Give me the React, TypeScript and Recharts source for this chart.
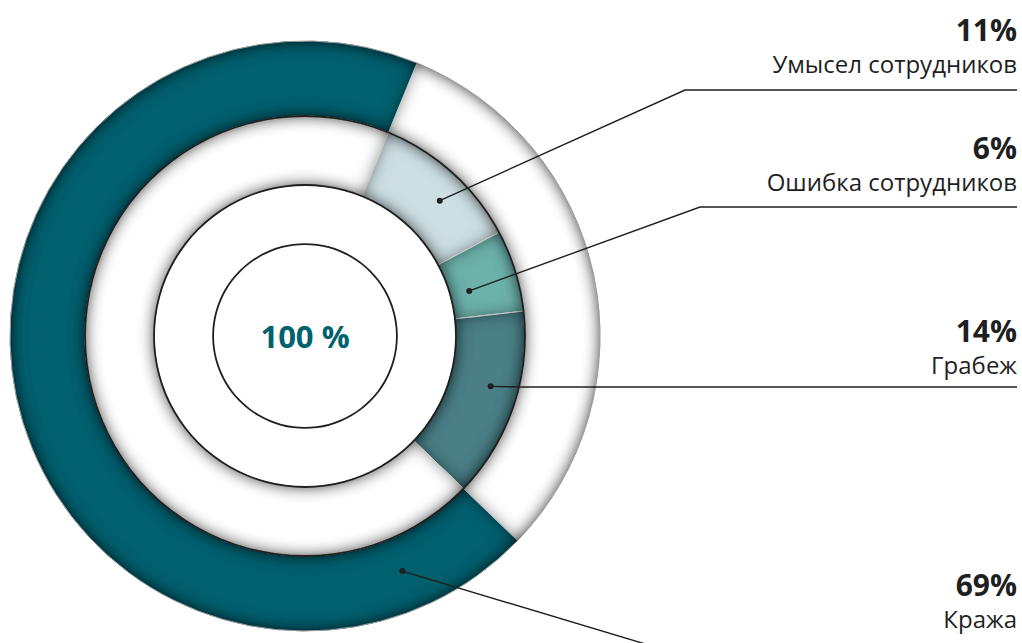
import React from "react";
import { PieChart, Pie, Cell } from "recharts";

// Доли видов потерь, %
const categories = ["Умысел сотрудников", "Ошибка сотрудников", "Грабеж", "Кража"];
const shares = [11, 6, 14, 69];
const percentLabels = ["11%", "6%", "14%", "69%"];
const sliceColors = ["#cddfe3", "#6db1ab", "#4b7f86", "#00616e"];
const totalLabel = "100 %";

// where each callout sits on the right side (layout only)
const calloutLayout = [
  { pctY: 41, nameY: 73, lineY: 90, lineX: 685, along: 0.57, depth: 0.58 },
  { pctY: 159, nameY: 191, lineY: 207, lineX: 700, along: 0.59, depth: 0.28 },
  { pctY: 342, nameY: 374, lineY: 387, lineX: 520, along: 0.43, depth: 0.6 },
  { pctY: 596, nameY: 628, lineY: 646, lineX: 652, along: 0.095, depth: 0.46 },
];

const W = 1022;
const H = 643;
const CX = 305;
const CY = 336;
const START = 67.7;
const END = START - 360;
const RAD = Math.PI / 180;
const FONT = "'Open Sans', 'Noto Sans', sans-serif";
const INK = "#1f1f1f";

// middle ring: the three small slices, the rest left blank
const middleData = [
  ...categories.slice(0, 3).map((name, i) => ({ name, value: shares[i], cat: i })),
  { name: "blank", value: shares[3], cat: -1 },
];
// outer ring: blank for the small slices, then "Кража"
const outerData = [
  { name: "blank", value: shares[0] + shares[1] + shares[2], cat: -1 },
  { name: categories[3], value: shares[3], cat: 3 },
];
const ringData = [{ name: "ring", value: 1 }];

const renderCallout = (props: any) => {
  const cat = props.cat ?? props.payload?.cat ?? -1;
  if (cat < 0) return null;
  const { cx, cy, startAngle, endAngle, innerRadius, outerRadius } = props;
  const c = calloutLayout[cat];
  const ang = startAngle + (endAngle - startAngle) * c.along;
  const r = innerRadius + (outerRadius - innerRadius) * c.depth;
  const dx = cx + Math.cos(-ang * RAD) * r;
  const dy = cy + Math.sin(-ang * RAD) * r;
  const right = W - 5;
  return (
    <g>
      <polyline
        points={`${dx},${dy} ${c.lineX},${c.lineY} ${right},${c.lineY}`}
        fill="none"
        stroke={INK}
        strokeWidth={1.4}
      />
      <circle cx={dx} cy={dy} r={3} fill={INK} />
      <text x={right} y={c.pctY} textAnchor="end" fontFamily={FONT} fontWeight={700} fontSize={30} fill={INK}>
        {percentLabels[cat]}
      </text>
      <text x={right} y={c.nameY} textAnchor="end" fontFamily={FONT} fontSize={24} fill={INK}>
        {categories[cat]}
      </text>
    </g>
  );
};

const renderTotal = (props: any) => (
  <text
    x={props.cx}
    y={props.cy}
    textAnchor="middle"
    dominantBaseline="central"
    fontFamily={FONT}
    fontWeight={700}
    fontSize={31}
    fill="#00616e"
  >
    {totalLabel}
  </text>
);

export default function App() {
  return (
    <div style={{ position: "absolute", left: 0, top: 0, width: W, height: H, background: "#fff" }}>
      <style>{`.ring-shadow { filter: url(#ringInset); }`}</style>
      <svg width={0} height={0} style={{ position: "absolute" }}>
        <defs>
          <filter id="ringInset" x="-10%" y="-10%" width="120%" height="120%">
            <feComponentTransfer in="SourceAlpha" result="inv">
              <feFuncA type="table" tableValues="1 0" />
            </feComponentTransfer>
            <feGaussianBlur in="inv" stdDeviation="8" result="blur" />
            <feFlood floodColor="#000" floodOpacity="0.9" result="col" />
            <feComposite in="col" in2="blur" operator="in" result="shadow" />
            <feComposite in="shadow" in2="SourceAlpha" operator="in" result="inner" />
            <feMerge>
              <feMergeNode in="SourceGraphic" />
              <feMergeNode in="inner" />
            </feMerge>
          </filter>
        </defs>
      </svg>
      <PieChart width={W} height={H} margin={{ top: 0, right: 0, bottom: 0, left: 0 }}>
        {/* outer ring */}
        <Pie
          data={outerData}
          dataKey="value"
          cx={CX}
          cy={CY}
          innerRadius={220}
          outerRadius={295}
          startAngle={START}
          endAngle={END}
          stroke="#fff"
          strokeWidth={1}
          className="ring-shadow"
          isAnimationActive={false}
        >
          {outerData.map((d, i) => (
            <Cell key={i} fill={d.cat < 0 ? "#ffffff" : sliceColors[d.cat]} />
          ))}
        </Pie>
        {/* middle ring */}
        <Pie
          data={middleData}
          dataKey="value"
          cx={CX}
          cy={CY}
          innerRadius={151}
          outerRadius={220}
          startAngle={START}
          endAngle={END}
          stroke="#fff"
          strokeWidth={1}
          className="ring-shadow"
          isAnimationActive={false}
        >
          {middleData.map((d, i) => (
            <Cell key={i} fill={d.cat < 0 ? "#ffffff" : sliceColors[d.cat]} />
          ))}
        </Pie>
        {/* thin dark circles */}
        {[220, 151].map((r) => (
          <Pie
            key={r}
            data={ringData}
            dataKey="value"
            cx={CX}
            cy={CY}
            innerRadius={r - 0.9}
            outerRadius={r + 0.9}
            fill={INK}
            stroke="none"
            isAnimationActive={false}
          />
        ))}
        <Pie
          data={ringData}
          dataKey="value"
          cx={CX}
          cy={CY}
          innerRadius={91}
          outerRadius={92.8}
          fill={INK}
          stroke="none"
          label={renderTotal}
          labelLine={false}
          isAnimationActive={false}
        />
        {/* callouts */}
        <Pie
          data={middleData}
          dataKey="value"
          cx={CX}
          cy={CY}
          innerRadius={151}
          outerRadius={220}
          startAngle={START}
          endAngle={END}
          fill="none"
          stroke="none"
          label={renderCallout}
          labelLine={false}
          isAnimationActive={false}
        />
        <Pie
          data={outerData}
          dataKey="value"
          cx={CX}
          cy={CY}
          innerRadius={220}
          outerRadius={295}
          startAngle={START}
          endAngle={END}
          fill="none"
          stroke="none"
          label={renderCallout}
          labelLine={false}
          isAnimationActive={false}
        />
      </PieChart>
    </div>
  );
}
